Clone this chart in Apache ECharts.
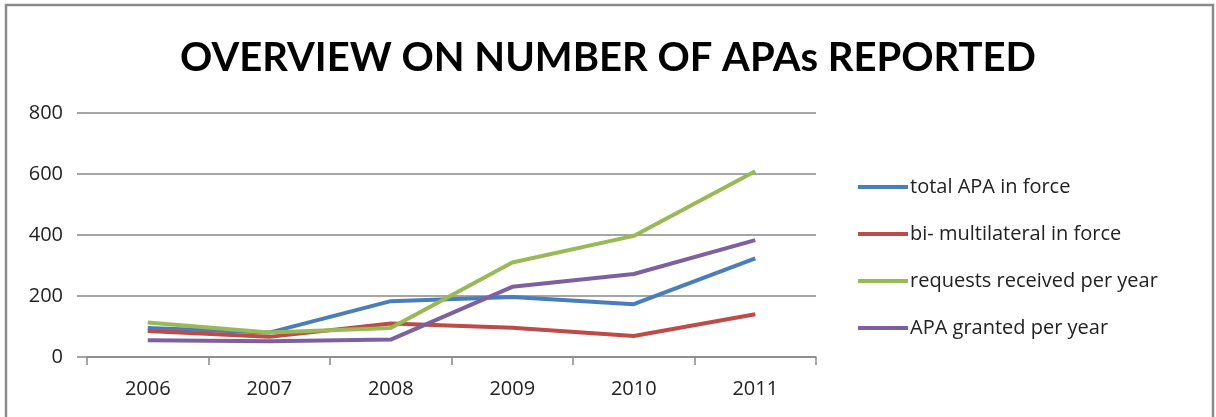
<!DOCTYPE html>
<html>
<head>
<meta charset="utf-8">
<script src="https://cdn.jsdelivr.net/npm/echarts@6/dist/echarts.min.js"></script>
<style>
  html, body { margin: 0; padding: 0; background: #fff; }
  #chart { width: 1216px; height: 417px; }
</style>
</head>
<body>
<div id="chart"></div>
<script>
// Years on the category axis
const years = ['2006', '2007', '2008', '2009', '2010', '2011'];

// APA counts per year
const totalInForce = [95, 80, 183, 197, 173, 323];
const biMultilateral = [85, 66, 110, 96, 69, 140];
const requestsReceived = [113, 80, 95, 310, 397, 609];
const granted = [55, 52, 57, 230, 272, 383];

// Value axis ticks
const yTicks = [0, 200, 400, 600, 800];

const seriesNames = [
  'total APA in force',
  'bi- multilateral in force',
  'requests received per year',
  'APA granted per year'
];
const seriesData = [totalInForce, biMultilateral, requestsReceived, granted];
const colors = ['#4A7EBB', '#BE4B48', '#98B954', '#7D60A0'];

const labelFont = 'Open Sans, Noto Sans, sans-serif';

const chart = echarts.init(document.getElementById('chart'), null, { renderer: 'canvas' });
chart.setOption({
  animation: false,
  backgroundColor: '#ffffff',
  title: {
    text: 'OVERVIEW ON NUMBER OF APAs REPORTED',
    left: 'center',
    top: 33,
    textStyle: {
      fontFamily: 'Lato, sans-serif',
      fontWeight: 'bold',
      fontSize: 40,
      color: '#000'
    }
  },
  graphic: [{
    type: 'rect',
    shape: { x: 6, y: 5, width: 1207, height: 430 },
    style: { fill: 'none', stroke: '#8a8a8a', lineWidth: 2.5 },
    silent: true
  }],
  legend: {
    orient: 'vertical',
    left: 853,
    top: 170,
    itemWidth: 50,
    itemHeight: 4,
    itemGap: 23,
    icon: 'rect',
    textStyle: {
      fontFamily: labelFont,
      fontSize: 20,
      color: '#222',
      lineHeight: 24,
      padding: [0, 0, 0, -3]
    },
    data: seriesNames
  },
  grid: {
    left: 87,
    right: 400,
    top: 113,
    bottom: 60,
    containLabel: false
  },
  xAxis: {
    type: 'category',
    data: years,
    boundaryGap: true,
    axisLine: { show: true, lineStyle: { color: '#888', width: 1.5 } },
    axisTick: { show: true, length: 8, inside: false, lineStyle: { color: '#888', width: 1.5 } },
    axisLabel: {
      fontFamily: labelFont,
      fontSize: 20,
      color: '#222',
      margin: 22
    }
  },
  yAxis: {
    type: 'value',
    min: yTicks[0],
    max: yTicks[yTicks.length - 1],
    interval: 200,
    axisLine: { show: false },
    axisTick: { show: true, length: 10, lineStyle: { color: '#888', width: 1.5 } },
    splitLine: { show: true, lineStyle: { color: '#888', width: 1.5 } },
    axisLabel: {
      fontFamily: labelFont,
      fontSize: 20,
      color: '#222',
      margin: 24
    }
  },
  series: seriesNames.map((name, i) => ({
    name: name,
    type: 'line',
    data: seriesData[i],
    symbol: 'none',
    color: colors[i],
    lineStyle: { width: 4, color: colors[i] }
  }))
});
</script>
</body>
</html>
